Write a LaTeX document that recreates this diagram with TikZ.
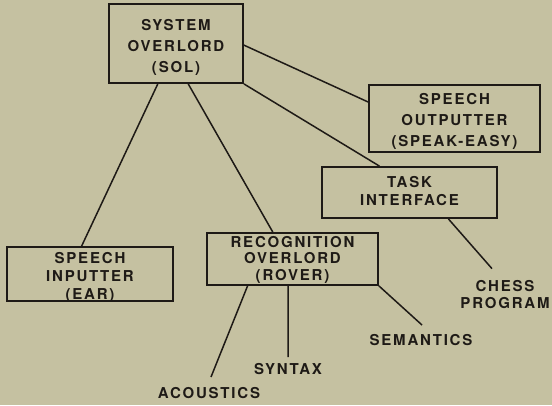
\documentclass[tikz,border=0pt]{standalone}
\usepackage{fontspec}
\setmainfont{TeX Gyre Heros}[LetterSpace=12]
\usetikzlibrary{calc}
\definecolor{paper}{RGB}{197,193,161}
\definecolor{ink}{RGB}{30,26,22}
% centred lines of a module label, lowered by #1 inside its box
\newcommand\stacklines[2]{\raisebox{#1}[\height][\depth]{\begin{tabular}{@{}c@{}}#2\end{tabular}}}
\begin{document}
\begin{tikzpicture}[x=1pt,y=-1pt,
  unit/.style={draw=ink, line width=1.8pt, inner sep=0pt,
    text=ink, font=\bfseries\fontsize{15}{21}\selectfont},
  leaf/.style={inner sep=0pt, align=center, text=ink,
    font=\bfseries\fontsize{15}{17}\selectfont},
  link/.style={draw=ink, line width=1.5pt}]
\fill[paper] (0,0) rectangle (552,405);
\useasboundingbox (0,0) rectangle (552,405);

% modules
\node[unit, minimum width=134pt, minimum height=79pt] (sol) at (176,43.5)
  {\stacklines{-3.4pt}{SYSTEM\\OVERLORD\\(SOL)}};
\node[unit, minimum width=171pt, minimum height=67pt] (speak) at (454.5,118.5)
  {\stacklines{-2.7pt}{SPEECH\\OUTPUTTER\\(SPEAK-EASY)}};
\node[unit, minimum width=175pt, minimum height=51pt,
  font=\bfseries\fontsize{15}{18}\selectfont] (task) at (409.5,192.5)
  {\stacklines{0pt}{TASK\\INTERFACE}};
\node[unit, minimum width=166pt, minimum height=54pt,
  font=\bfseries\fontsize{15}{18}\selectfont] (ear) at (90,274)
  {\stacklines{-3.5pt}{SPEECH\\INPUTTER\\(EAR)}};
\node[unit, minimum width=171pt, minimum height=52pt,
  font=\bfseries\fontsize{15}{16.7}\selectfont] (rover) at (292.5,259)
  {\stacklines{-1.6pt}{RECOGNITION\\OVERLORD\\(ROVER)}};

% knowledge sources and programs
\node[leaf] (chess) at (505,295) {CHESS\\PROGRAM};
\node[leaf, anchor=base] (semantics) at (421,345) {SEMANTICS};
\node[leaf, anchor=base] (syntax) at (288,374) {SYNTAX};
\node[leaf, anchor=base] (acoustics) at (209,398) {ACOUSTICS};

% connections
\draw[link] ($(sol.south west)!.366!(sol.south east)$) -- ($(ear.north west)!.45!(ear.north east)$);
\draw[link] ($(sol.south west)!.59!(sol.south east)$) -- ($(rover.north west)!.386!(rover.north east)$);
\draw[link] ($(sol.north east)!.52!(sol.south east)$) -- ($(speak.north west)!.26!(speak.south west)$);
\draw[link] (sol.south east) -- ($(task.north west)!.33!(task.north east)$);
\draw[link] ($(task.south west)!.72!(task.south east)$) -- ([xshift=-13pt,yshift=12pt]chess.north);
\draw[link] ($(rover.south west)!.24!(rover.south east)$) -- ([xshift=2pt,yshift=21pt]acoustics.base);
\draw[link] ($(rover.south west)!.474!(rover.south east)$) -- ([yshift=17pt]syntax.base);
\draw[link] (rover.south east) -- ([xshift=1pt,yshift=20pt]semantics.base);
\end{tikzpicture}
\end{document}
